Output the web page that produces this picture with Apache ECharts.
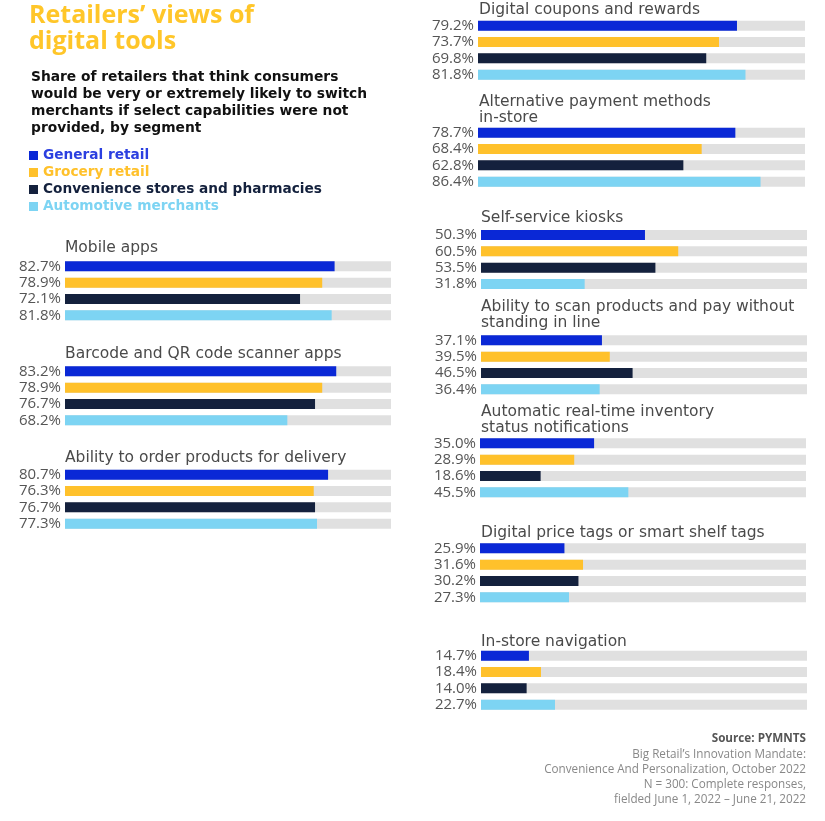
<!DOCTYPE html>
<html>
<head>
<meta charset="utf-8">
<script src="https://cdn.jsdelivr.net/npm/echarts@6/dist/echarts.min.js"></script>
<style>
html,body{margin:0;padding:0;background:#fff;}
#chart{width:825px;height:821px;}
</style>
</head>
<body>
<div id="chart"></div>
<script>
// ---- Data ----
const groups = [
  'Mobile apps',
  'Barcode and QR code scanner apps',
  'Ability to order products for delivery',
  'Digital coupons and rewards',
  'Alternative payment methods\nin-store',
  'Self-service kiosks',
  'Ability to scan products and pay without\nstanding in line',
  'Automatic real-time inventory\nstatus notifications',
  'Digital price tags or smart shelf tags',
  'In-store navigation'
];
const segments = ['General retail', 'Grocery retail', 'Convenience stores and pharmacies', 'Automotive merchants'];
const generalRetail = [82.7, 83.2, 80.7, 79.2, 78.7, 50.3, 37.1, 35.0, 25.9, 14.7];
const groceryRetail = [78.9, 78.9, 76.3, 73.7, 68.4, 60.5, 39.5, 28.9, 31.6, 18.4];
const convenienceStores = [72.1, 76.7, 76.7, 69.8, 62.8, 53.5, 46.5, 18.6, 30.2, 14.0];
const automotiveMerchants = [81.8, 68.2, 77.3, 81.8, 86.4, 31.8, 36.4, 45.5, 27.3, 22.7];
const scaleMax = 100;

// ---- Layout (positions only) ----
const groupLeft  = [65, 65, 65, 478, 478, 481, 481, 480, 480, 481];
const groupRight = [391, 391, 391, 805, 805, 807, 807, 806, 806, 807];
const firstRow   = [266.3, 371.3, 474.7, 25.7, 132.7, 235, 340.3, 443.3, 548.3, 655.7];
const titleY     = [248.3, 354, 458.3, 10, 102.3, 218.3, 306.7, 411.7, 532.7, 641.7];
const titleX     = [65, 65, 65, 479, 479, 481, 481, 481, 481, 481];
const rowStep = 16.33;

const segColors = ['#0A28D6', '#FFC12B', '#14213D', '#7DD4F3'];
const legendTextColors = ['#2B3FE0', '#FFC12B', '#14213D', '#7DD4F3'];
const seriesValues = [generalRetail, groceryRetail, convenienceStores, automotiveMerchants];
const FONT = '"Open Sans", "Noto Sans", sans-serif';
const WIDE = '"DejaVu Sans", "Open Sans", sans-serif';

const grids = [], xAxes = [], yAxes = [], series = [], titles = [];

titles.push({
  text: 'Retailers\u2019 views of\ndigital tools',
  left: 29, top: 3, padding: 0,
  textStyle: {fontFamily: FONT, fontSize: 25, fontWeight: 'bold', color: '#FFC629', lineHeight: 26}
});
titles.push({
  text: 'Share of retailers that think consumers\nwould be very or extremely likely to switch\nmerchants if select capabilities were not\nprovided, by segment',
  left: 31, top: 69, padding: 0,
  textStyle: {fontFamily: WIDE, fontSize: 13.8, fontWeight: 'bold', color: '#111', lineHeight: 17}
});

groups.forEach((g, i) => {
  const top = firstRow[i] - rowStep / 2;
  grids.push({left: groupLeft[i], width: groupRight[i] - groupLeft[i], top: top, height: rowStep * 4, containLabel: false});
  xAxes.push({type: 'value', gridIndex: i, min: 0, max: scaleMax, show: false});
  yAxes.push({
    type: 'category', gridIndex: i, inverse: true,
    data: seriesValues.map(arr => arr[i].toFixed(1) + '%'),
    axisLine: {show: false}, axisTick: {show: false}, splitLine: {show: false},
    axisLabel: {interval: 0, fontFamily: FONT, fontSize: 15, color: '#555', margin: 4}
  });
  series.push({
    type: 'bar', xAxisIndex: i, yAxisIndex: i, silent: true,
    data: [scaleMax, scaleMax, scaleMax, scaleMax],
    barWidth: 10, barGap: '-100%', itemStyle: {color: '#E0E0E0'}, z: 1
  });
  segments.forEach((s, k) => {
    const d = ['-', '-', '-', '-'];
    d[k] = seriesValues[k][i];
    series.push({
      type: 'bar', name: s, xAxisIndex: i, yAxisIndex: i,
      data: d, barWidth: 10, barGap: '-100%', z: 2,
      itemStyle: {color: segColors[k]}
    });
  });
  titles.push({
    text: g, left: titleX[i], top: titleY[i] - 8, padding: 0,
    textStyle: {fontFamily: WIDE, fontSize: 15.5, fontWeight: 'normal', color: '#4a4a4a', lineHeight: 16}
  });
});

const chart = echarts.init(document.getElementById('chart'));
chart.setOption({
  backgroundColor: '#fff',
  animation: false,
  title: titles,
  legend: {
    orient: 'vertical', left: 29, top: 147, padding: 0,
    itemWidth: 9, itemHeight: 9, itemGap: 0, icon: 'rect',
    selectedMode: false,
    data: segments.map((s, k) => ({name: s, textStyle: {color: legendTextColors[k]}})),
    textStyle: {fontFamily: WIDE, fontSize: 13.7, fontWeight: 'bold', lineHeight: 17}
  },
  grid: grids,
  xAxis: xAxes,
  yAxis: yAxes,
  series: series,
  graphic: [
    {type: 'text', x: 806, y: 733, style: {text: 'Source: PYMNTS', align: 'right', fontFamily: FONT, fontSize: 11.7, fontWeight: 'bold', fill: '#555'}},
    {type: 'text', x: 806, y: 747, style: {
      text: 'Big Retail\u2019s Innovation Mandate:\nConvenience And Personalization, October 2022\nN = 300: Complete responses,\nfielded June 1, 2022 \u2013 June 21, 2022',
      align: 'right', fontFamily: FONT, fontSize: 11.7, lineHeight: 15, fill: '#888'}}
  ]
});
</script>
</body>
</html>
